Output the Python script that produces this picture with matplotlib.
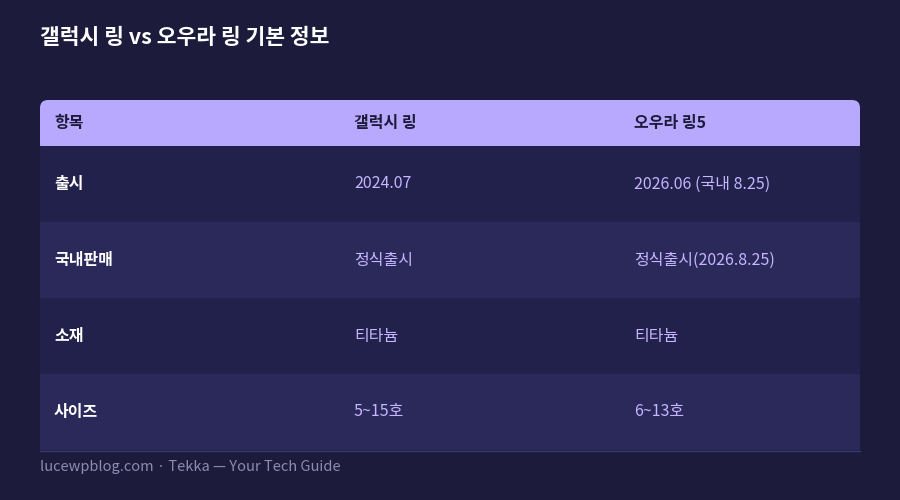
import matplotlib
matplotlib.use("Agg")
import matplotlib.pyplot as plt
from matplotlib.patches import FancyBboxPatch, Rectangle

plt.rcParams['font.family'] = ['Noto Sans CJK KR', 'DejaVu Sans']

title = "갤럭시 링 vs 오우라 링 기본 정보"
headers = ["항목", "갤럭시 링", "오우라 링5"]
items = ["출시", "국내판매", "소재", "사이즈"]
galaxy = ["2024.07", "정식출시", "티타늄", "5~15호"]
oura = ["2026.06 (국내 8.25)", "정식출시(2026.8.25)", "티타늄", "6~13호"]
footer = "lucewpblog.com · Tekka — Your Tech Guide"

BG = "#1c1b3b"
fig = plt.figure(figsize=(9, 5), dpi=100, facecolor=BG)
ax = fig.add_axes([0, 0, 1, 1])
ax.set_xlim(0, 900); ax.set_ylim(500, 0); ax.axis("off")
ax.set_facecolor(BG)

ax.text(40, 37, title, color="white", fontsize=15.5, fontweight="bold", va="center")

x0, x1 = 40, 860
colx = [54, 354, 634]
hy0, hy1 = 100, 146
ax.add_patch(FancyBboxPatch((x0, hy0), x1 - x0, hy1 - hy0 + 6,
                            boxstyle="round,pad=0,rounding_size=8",
                            fc="#b8a9ff", ec="none"))
for x, h in zip(colx, headers):
    ax.text(x, (hy0 + hy1) / 2, h, color="#1c1b3b", fontsize=11.5,
            fontweight="bold", va="center")

rh = 76
for i, (a, b, c) in enumerate(zip(items, galaxy, oura)):
    y = hy1 + i * rh
    ax.add_patch(Rectangle((x0, y), x1 - x0, rh,
                           fc="#22214b" if i % 2 == 0 else "#2a295a", ec="none"))
    yc = y + rh / 2
    ax.text(colx[0], yc, a, color="white", fontsize=11.5, fontweight="bold", va="center")
    ax.text(colx[1], yc, b, color="#c5b6ff", fontsize=11.5, va="center")
    ax.text(colx[2], yc, c, color="#c5b6ff", fontsize=11.5, va="center")
yb = hy1 + len(items) * rh
ax.plot([x0, x1], [yb + 1, yb + 1], color="#3a3970", lw=1)

ax.text(40, 467, footer, color="#8d8cb0", fontsize=10.5, va="center")
fig.savefig("out.png", dpi=100, facecolor=BG)
